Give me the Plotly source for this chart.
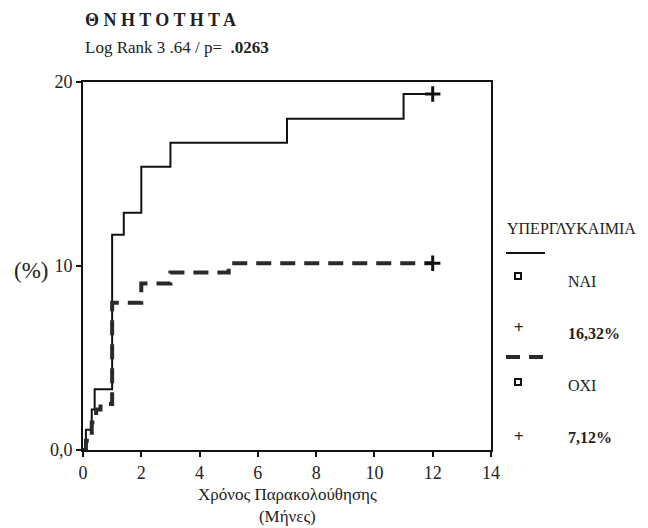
import plotly.graph_objects as go

# Data
months_nai = [0, 0.1, 0.3, 0.4, 1.0, 1.4, 2.0, 3.0, 7.0, 11.0, 12.0]
pct_nai = [0, 1.1, 2.2, 3.3, 11.7, 12.9, 15.4, 16.7, 18.0, 19.35, 19.35]
months_oxi = [0, 0.1, 0.3, 0.45, 0.6, 1.0, 2.0, 3.0, 5.0, 12.0]
pct_oxi = [0, 0.5, 1.5, 2.2, 2.5, 8.0, 9.05, 9.65, 10.15, 10.15]
censor_x = [12.0, 12.0]
censor_y = [19.35, 10.15]
x_ticks = [0, 2, 4, 6, 8, 10, 12, 14]
y_ticks = [0, 10, 20]
y_tick_labels = ["0,0", "10", "20"]

FONT = "Liberation Serif"

fig = go.Figure()
fig.add_trace(go.Scatter(x=months_nai, y=pct_nai, mode="lines", line=dict(shape="hv", color="#111", width=2),
                         showlegend=False, hoverinfo="skip"))
fig.add_trace(go.Scatter(x=months_oxi, y=pct_oxi, mode="lines",
                         line=dict(shape="hv", color="#2a2a2a", width=4, dash="15px,9px"),
                         showlegend=False, hoverinfo="skip"))
fig.add_trace(go.Scatter(x=censor_x, y=censor_y, mode="markers",
                         marker=dict(symbol="cross-thin-open", size=11, color="#111",
                                     line=dict(color="#111", width=3)),
                         showlegend=False, hoverinfo="skip"))

# the page body has an 8px margin; figure is sized/offset to compensate
fig.update_layout(
    width=640, height=520,
    margin=dict(l=75, r=157, t=74, b=78),
    plot_bgcolor="white", paper_bgcolor="white",
    font=dict(family=FONT, size=16, color="#222"),
    xaxis=dict(range=[0, 14], tickvals=x_ticks, showgrid=False, zeroline=False,
               showline=True, mirror=True, linecolor="#111", linewidth=2,
               ticks="outside", ticklen=5, tickwidth=2, tickcolor="#111",
               tickfont=dict(family=FONT, size=18, color="#222")),
    yaxis=dict(range=[0, 20], tickvals=y_ticks, ticktext=y_tick_labels, showgrid=False, zeroline=False,
               showline=True, mirror=True, linecolor="#111", linewidth=2,
               ticks="outside", ticklen=5, tickwidth=2, tickcolor="#111",
               tickfont=dict(family=FONT, size=18, color="#222")),
)


def px(x):
    return (x - 83) / 408


def py(y):
    return 1 - (y - 82) / 368


ann = [
    ("<b>Θ Ν Η Τ Ο Τ Η Τ Α</b>", 83, 20, 18),
    ("Log Rank 3 .64 / p=  <b>.0263</b>", 83, 47, 17),
    ("(%)", 12, 270, 23),
    ("ΥΠΕΡΓΛΥΚΑΙΜΙΑ", 505, 228, 16),
    ("ΝΑΙ", 566, 281, 16),
    ("<b>16,32%</b>", 566, 333, 16),
    ("ΟΧΙ", 566, 385, 16),
    ("<b>7,12%</b>", 566, 437, 16),
    ("<b>+</b>", 512, 327, 17),
    ("<b>+</b>", 512, 436, 17),
]
for text, x, y, s in ann:
    fig.add_annotation(xref="paper", yref="paper", x=px(x), y=py(y), text=text, showarrow=False,
                       xanchor="left", yanchor="middle", font=dict(size=s, family=FONT, color="#222"))

fig.add_annotation(xref="paper", yref="paper", x=px(287), y=py(505),
                   text="Χρόνος Παρακολούθησης<br>(Μήνες)", showarrow=False, xanchor="center",
                   yanchor="middle", font=dict(size=17, family=FONT, color="#222"))

fig.add_shape(type="line", xref="paper", yref="paper", x0=px(506), x1=px(545), y0=py(253), y1=py(253),
              line=dict(color="#111", width=2))
fig.add_shape(type="line", xref="paper", yref="paper", x0=px(506), x1=px(546), y0=py(357), y1=py(357),
              line=dict(color="#2a2a2a", width=4, dash="14px,9px"))
for yy in (276, 382):
    fig.add_shape(type="rect", xref="paper", yref="paper", x0=px(515), x1=px(521), y0=py(yy + 3),
                  y1=py(yy - 3), line=dict(color="#111", width=2))

fig.write_html("out.html")
